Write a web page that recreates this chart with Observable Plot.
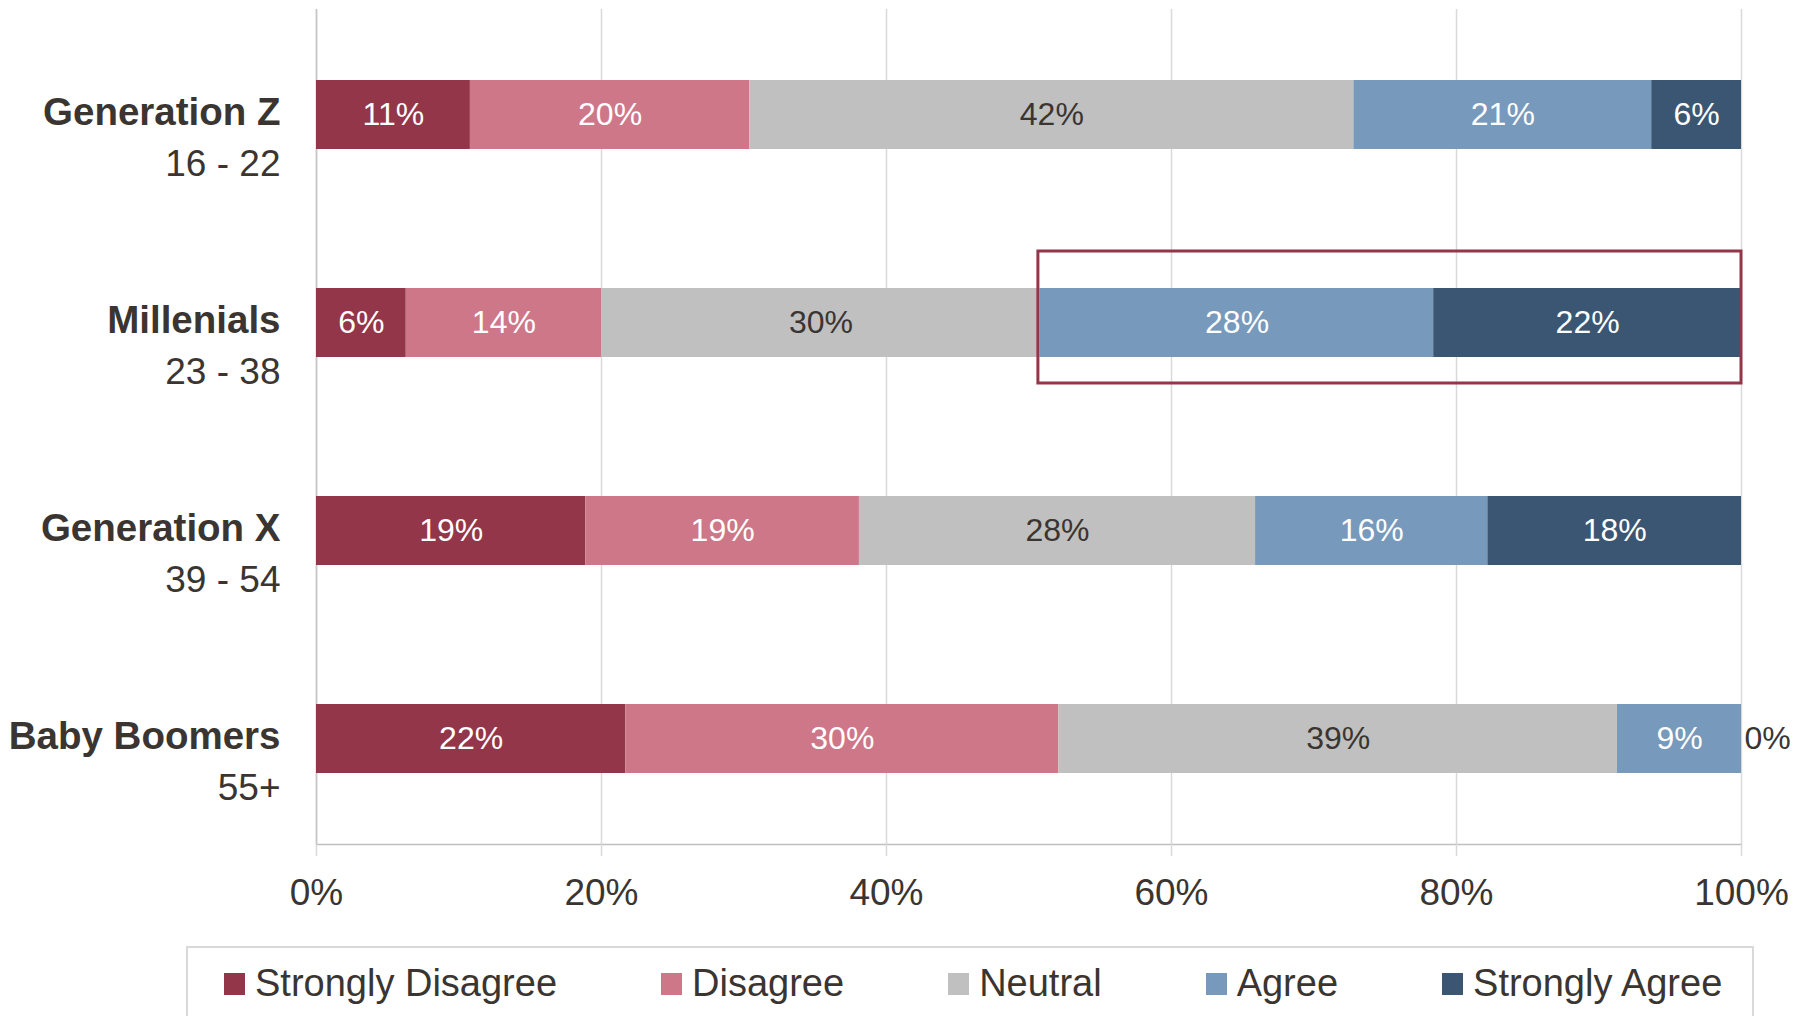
<!DOCTYPE html>
<html>
<head>
<meta charset="utf-8">
<script src="https://cdn.jsdelivr.net/npm/d3@7"></script>
<script src="https://cdn.jsdelivr.net/npm/@observablehq/plot@0.6"></script>
<style>
  html, body { margin: 0; padding: 0; background: #fff; overflow: hidden; }
  body { width: 1813px; height: 1016px; position: relative; font-family: "Liberation Sans", Arial, sans-serif; }
  #chart { position: absolute; left: 0; top: 0; }
  #legend {
    position: absolute; left: 186px; top: 946px; width: 1568px; height: 120px;
    border: 2px solid #d9d9d9; box-sizing: border-box;
    display: flex; align-items: flex-start; padding-left: 36px; padding-top: 14px;
    font-size: 38px; color: #3a3531;
  }
  .item { display: flex; align-items: center; margin-right: 104px; white-space: nowrap; }
  .sw { width: 21px; height: 22px; margin-right: 10px; display: inline-block; }
</style>
</head>
<body>
<div id="chart"></div>
<div id="legend"></div>
<script>
// ---- data ----
const categories = ["Generation Z", "Millenials", "Generation X", "Baby Boomers"];
const ageRanges = ["16 - 22", "23 - 38", "39 - 54", "55+"];
const responses = ["Strongly Disagree", "Disagree", "Neutral", "Agree", "Strongly Agree"];
const colors = ["#93364a", "#cd7789", "#c0c0c0", "#7699bc", "#3b5673"];
const labelColors = ["#ffffff", "#ffffff", "#3a3531", "#ffffff", "#ffffff"];
// bar widths (% of respondents), per category
const stronglyDisagree = [10.8, 6.3, 18.9, 21.7];
const disagree         = [19.6, 13.7, 19.2, 30.4];
const neutral          = [42.4, 30.8, 27.8, 39.2];
const agree            = [20.9, 27.6, 16.3, 8.7];
const stronglyAgree    = [6.3, 21.6, 17.8, 0];
// data labels as printed on the bars
const stronglyDisagreeLabels = ["11%", "6%", "19%", "22%"];
const disagreeLabels         = ["20%", "14%", "19%", "30%"];
const neutralLabels          = ["42%", "30%", "28%", "39%"];
const agreeLabels            = ["21%", "28%", "16%", "9%"];
const stronglyAgreeLabels    = ["6%", "22%", "18%", "0%"];
const xTicks = [0, 20, 40, 60, 80, 100];
const highlightCategory = "Millenials";
const highlightFrom = "Agree";
const highlightTo = "Strongly Agree";

// ---- build table ----
const series = [stronglyDisagree, disagree, neutral, agree, stronglyAgree];
const labelSeries = [stronglyDisagreeLabels, disagreeLabels, neutralLabels, agreeLabels, stronglyAgreeLabels];
const rows = [];
categories.forEach((c, i) => {
  let acc = 0;
  responses.forEach((r, j) => {
    const v = series[j][i];
    rows.push({category: c, response: r, value: v, label: labelSeries[j][i], x1: acc, x2: acc + v, ri: j});
    acc += v;
  });
});
const hStart = rows.find(d => d.category === highlightCategory && d.response === highlightFrom);
const hEnd = rows.find(d => d.category === highlightCategory && d.response === highlightTo);
const highlight = [{category: highlightCategory, x1: hStart.x1, x2: hEnd.x2}];

const textColor = "#3a3531";
const font = "Liberation Sans, Arial, sans-serif";

const chart = Plot.plot({
  width: 1813,
  height: 940,
  marginLeft: 316,
  marginRight: 72,
  marginTop: 9,
  marginBottom: 96,
  style: {fontFamily: font, background: "transparent"},
  x: {domain: [0, 100], axis: null},
  y: {domain: categories, axis: null, paddingInner: 0.67, paddingOuter: 0.335},
  color: {domain: responses, range: colors},
  marks: [
    Plot.ruleX(xTicks, {x: d => d, stroke: "#d9d9d9", strokeWidth: 1.5}),
    Plot.ruleX([0], {stroke: "#c4c4c4", strokeWidth: 1.5}),
    Plot.barX(rows, {y: "category", x1: "x1", x2: "x2", fill: "response"}),
    Plot.text(rows.filter(d => d.value > 0), {
      y: "category", x: d => (d.x1 + d.x2) / 2,
      text: "label",
      fill: d => labelColors[d.ri], fontSize: 32, fontWeight: 300
    }),
    Plot.text(rows.filter(d => d.value === 0), {
      y: "category", x: "x1", text: "label",
      fill: textColor, fontSize: 32, textAnchor: "start", dx: 3
    }),
    Plot.rect(highlight, {
      y: "category", x1: "x1", x2: "x2",
      insetTop: -37, insetBottom: -26, insetLeft: -2, insetRight: 0,
      fill: "none", stroke: "#93364a", strokeWidth: 3
    }),
    Plot.frame({anchor: "bottom", stroke: "#bfbfbf", strokeWidth: 1.5}),
    Plot.axisX(xTicks, {
      tickSize: 12, stroke: "#d9d9d9", strokeWidth: 1.5, fill: textColor,
      fontSize: 37, tickPadding: 22, tickFormat: d => d + "%"
    }),
    Plot.text(categories, {
      y: d => d, frameAnchor: "left", dx: -36, dy: -2, textAnchor: "end",
      fontSize: 38.5, fontWeight: "bold", fill: textColor
    }),
    Plot.text(categories, {
      y: d => d, frameAnchor: "left", dx: -36, dy: 49, textAnchor: "end",
      text: (d, i) => ageRanges[i],
      fontSize: 37, fill: textColor
    })
  ]
});
document.getElementById("chart").appendChild(chart);

const legend = document.getElementById("legend");
responses.forEach((r, i) => {
  const item = document.createElement("div");
  item.className = "item";
  const sw = document.createElement("span");
  sw.className = "sw";
  sw.style.background = colors[i];
  const t = document.createElement("span");
  t.textContent = r;
  item.appendChild(sw);
  item.appendChild(t);
  legend.appendChild(item);
});
</script>
</body>
</html>
